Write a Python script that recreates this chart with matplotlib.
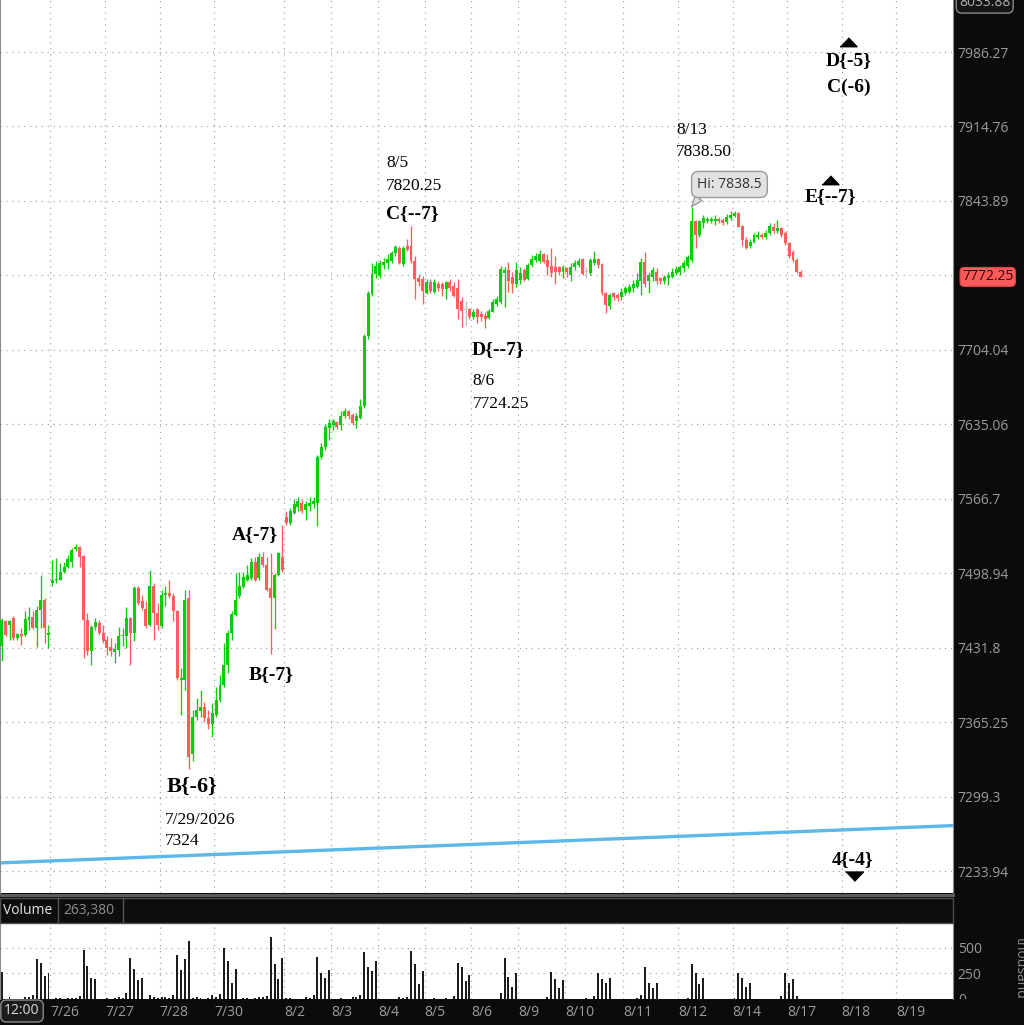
import matplotlib
matplotlib.use("Agg")
import matplotlib.pyplot as plt
import numpy as np
from matplotlib.patches import Rectangle
from matplotlib.lines import Line2D
from matplotlib.ticker import FixedLocator, NullLocator
from matplotlib.transforms import blended_transform_factory

# intraday bars (bar index = position on the time axis)
opens = [7433.0, 7455.5, 7452.5, 7458.5, 7440.5, 7444.5, 7443.5, 7457.0, 7459.5, 7449.5,
         7466.0, 7475.0, 7443.5, 7490.5, 7492.5, 7493.0, 7500.5, 7504.5, 7509.5, 7520.5,
         7522.5, 7514.5, 7457.0, 7428.5, 7450.5, 7454.0, 7445.0, 7439.0, 7432.5, 7427.5,
         7430.0, 7442.0, 7442.0, 7458.5, 7445.0, 7485.5, 7473.5, 7466.5, 7452.5, 7487.0,
         7463.0, 7451.0, 7479.5, 7481.5, 7478.5, 7464.5, 7403.0, 7403.0, 7476.5, 7337.0,
         7370.0, 7375.5, 7378.5, 7368.5, 7364.0, 7371.5, 7385.0, 7398.5, 7416.5, 7445.0,
         7461.5, 7478.0, 7486.5, 7493.0, 7494.5, 7509.5, 7494.5, 7514.0, 7506.5, 7485.5,
         7476.5, 7497.5, 7514.0, 7550.5, 7544.5, 7554.0, 7559.0, 7563.0, 7556.0, 7560.0,
         7561.5, 7563.0, 7605.0, 7614.5, 7631.5, 7634.5, 7637.0, 7634.5, 7642.5, 7647.0,
         7644.0, 7638.0, 7641.0, 7652.0, 7717.0, 7756.0, 7774.5, 7773.0, 7783.0, 7785.5,
         7787.0, 7794.5, 7799.5, 7784.0, 7801.0, 7801.0, 7787.0, 7771.5, 7770.0, 7757.5,
         7767.0, 7758.0, 7765.5, 7765.5, 7760.5, 7767.5, 7764.0, 7762.0, 7750.0, 7741.0,
         7742.0, 7735.0, 7742.0, 7737.5, 7736.0, 7733.5, 7739.5, 7746.5, 7748.5, 7775.5,
         7779.0, 7772.5, 7766.0, 7769.5, 7779.0, 7770.0, 7783.5, 7788.0, 7787.5, 7794.0,
         7788.0, 7782.5, 7782.0, 7781.5, 7777.0, 7780.5, 7774.0, 7781.5, 7783.5, 7789.0,
         7777.0, 7775.5, 7785.5, 7789.0, 7784.5, 7757.0, 7745.0, 7757.0, 7755.0, 7753.0,
         7757.5, 7758.5, 7761.5, 7763.0, 7768.0, 7786.5, 7768.0, 7772.5, 7777.0, 7771.0,
         7768.5, 7771.0, 7772.5, 7775.5, 7777.0, 7780.5, 7782.5, 7788.0, 7824.5, 7812.0,
         7823.0, 7824.5, 7824.5, 7824.5, 7826.5, 7826.0, 7823.5, 7827.5, 7829.5, 7832.5,
         7820.5, 7807.0, 7801.5, 7805.5, 7809.5, 7812.0, 7809.5, 7814.0, 7819.5, 7815.0,
         7818.0, 7813.5, 7804.0, 7796.0, 7788.0, 7777.0]
highs = [7458.5, 7457.0, 7457.0, 7460.0, 7445.0, 7449.5, 7464.5, 7468.5, 7464.5, 7469.0,
         7497.5, 7476.5, 7452.5, 7510.5, 7512.5, 7508.0, 7509.5, 7515.5, 7521.5, 7525.5,
         7523.5, 7515.5, 7463.0, 7452.5, 7458.5, 7456.5, 7452.5, 7442.5, 7440.5, 7436.0,
         7450.5, 7449.5, 7468.5, 7459.5, 7487.0, 7487.0, 7479.5, 7473.5, 7502.0, 7490.0,
         7472.0, 7484.0, 7487.0, 7493.0, 7481.0, 7466.0, 7413.5, 7484.0, 7483.5, 7376.0,
         7386.5, 7394.0, 7383.5, 7376.0, 7382.0, 7397.0, 7407.5, 7436.0, 7448.0, 7464.5,
         7499.5, 7500.5, 7500.5, 7506.5, 7512.5, 7514.0, 7517.0, 7518.5, 7514.0, 7517.0,
         7499.0, 7518.5, 7543.0, 7555.5, 7558.5, 7566.5, 7568.0, 7565.5, 7565.0, 7568.0,
         7568.5, 7607.0, 7617.5, 7635.5, 7639.5, 7639.5, 7638.0, 7647.0, 7650.5, 7648.5,
         7645.5, 7645.5, 7658.0, 7718.5, 7759.0, 7785.5, 7787.0, 7788.5, 7790.0, 7793.5,
         7796.5, 7802.5, 7801.0, 7801.0, 7807.5, 7820.25, 7792.0, 7774.5, 7773.0, 7770.0,
         7770.0, 7770.0, 7768.5, 7767.5, 7768.5, 7770.0, 7767.0, 7770.0, 7753.0, 7750.0,
         7743.5, 7742.0, 7743.5, 7740.5, 7739.0, 7742.0, 7751.5, 7754.5, 7782.5, 7781.5,
         7786.5, 7777.0, 7786.5, 7781.5, 7780.5, 7785.0, 7793.0, 7795.0, 7797.5, 7795.0,
         7794.0, 7799.0, 7791.5, 7782.5, 7783.5, 7782.0, 7785.0, 7788.0, 7790.0, 7790.0,
         7781.5, 7790.0, 7797.0, 7790.0, 7785.0, 7758.5, 7757.0, 7758.5, 7757.0, 7761.5,
         7763.5, 7765.5, 7769.5, 7775.5, 7790.0, 7796.0, 7777.0, 7782.0, 7780.5, 7772.5,
         7774.0, 7777.0, 7780.5, 7782.5, 7783.5, 7788.0, 7793.0, 7838.5, 7826.0, 7826.0,
         7830.5, 7829.0, 7828.5, 7830.5, 7828.5, 7827.5, 7831.5, 7834.0, 7834.0, 7833.0,
         7821.5, 7810.0, 7807.5, 7814.0, 7815.0, 7814.0, 7816.5, 7823.0, 7823.0, 7826.0,
         7819.5, 7815.0, 7805.5, 7797.5, 7790.0, 7779.0]
lows = [7419.5, 7442.0, 7439.0, 7439.0, 7439.0, 7434.5, 7442.0, 7448.0, 7448.5, 7432.5,
        7449.5, 7436.0, 7431.5, 7487.0, 7490.0, 7492.5, 7499.0, 7503.5, 7505.0, 7519.5,
        7505.0, 7422.5, 7425.5, 7416.5, 7448.0, 7443.5, 7436.0, 7425.5, 7424.0, 7418.5,
        7424.0, 7433.0, 7431.5, 7416.5, 7437.5, 7470.5, 7466.0, 7449.5, 7451.0, 7439.0,
        7448.0, 7449.5, 7469.0, 7476.5, 7455.5, 7403.0, 7371.5, 7394.0, 7324.0, 7331.0,
        7367.0, 7370.0, 7365.5, 7359.5, 7352.0, 7370.0, 7383.5, 7397.0, 7409.0, 7439.0,
        7460.0, 7476.5, 7485.5, 7491.5, 7493.0, 7491.5, 7493.0, 7505.0, 7482.5, 7426.5,
        7449.0, 7496.0, 7500.5, 7543.0, 7542.5, 7552.5, 7555.5, 7554.0, 7547.5, 7555.5,
        7558.5, 7541.5, 7603.5, 7611.5, 7620.5, 7630.0, 7630.5, 7630.0, 7641.0, 7639.5,
        7634.5, 7631.5, 7639.5, 7650.5, 7714.0, 7754.5, 7771.5, 7771.5, 7779.5, 7779.5,
        7785.5, 7792.0, 7784.0, 7782.5, 7796.5, 7785.5, 7751.5, 7764.0, 7746.5, 7756.0,
        7757.5, 7757.0, 7759.0, 7754.5, 7751.5, 7759.0, 7753.0, 7732.5, 7725.0, 7726.5,
        7732.5, 7732.5, 7729.5, 7731.0, 7724.25, 7732.5, 7739.0, 7745.0, 7746.5, 7744.0,
        7758.5, 7757.0, 7763.0, 7766.0, 7768.0, 7769.5, 7781.5, 7786.5, 7785.5, 7785.0,
        7774.0, 7772.5, 7766.0, 7774.0, 7771.0, 7772.5, 7768.0, 7779.0, 7781.5, 7774.0,
        7771.0, 7774.0, 7783.5, 7780.5, 7755.0, 7738.5, 7742.5, 7750.5, 7750.0, 7751.0,
        7755.0, 7757.0, 7758.5, 7761.5, 7755.0, 7763.0, 7757.0, 7768.0, 7766.0, 7766.0,
        7765.5, 7764.5, 7771.0, 7774.0, 7774.0, 7777.0, 7780.5, 7786.5, 7799.0, 7810.0,
        7818.0, 7823.0, 7823.0, 7821.5, 7823.0, 7821.5, 7822.0, 7826.0, 7828.5, 7819.0,
        7801.0, 7798.5, 7799.0, 7804.0, 7807.5, 7807.5, 7807.5, 7812.0, 7813.5, 7813.5,
        7810.0, 7802.5, 7790.0, 7786.5, 7775.5, 7772.25]
closes = [7457.0, 7443.5, 7455.5, 7440.5, 7444.5, 7442.0, 7457.5, 7459.5, 7449.5, 7466.0,
          7474.5, 7449.5, 7445.0, 7493.0, 7493.5, 7500.5, 7504.5, 7511.5, 7520.0, 7523.0,
          7514.0, 7456.5, 7428.5, 7450.5, 7454.5, 7445.0, 7437.5, 7431.5, 7428.5, 7430.5,
          7442.5, 7443.5, 7458.5, 7445.0, 7485.5, 7472.0, 7467.5, 7451.0, 7487.5, 7463.0,
          7452.5, 7479.5, 7481.5, 7478.0, 7464.5, 7404.5, 7404.5, 7475.0, 7334.0, 7370.0,
          7376.0, 7378.5, 7368.5, 7364.0, 7373.0, 7385.0, 7398.5, 7416.5, 7445.0, 7462.5,
          7475.0, 7487.0, 7495.5, 7497.5, 7509.5, 7493.0, 7514.0, 7506.5, 7484.0, 7476.5,
          7497.5, 7517.0, 7502.0, 7544.5, 7555.5, 7561.5, 7565.0, 7555.5, 7561.5, 7563.0,
          7565.0, 7605.0, 7614.5, 7633.0, 7636.5, 7638.0, 7632.5, 7642.5, 7647.0, 7642.5,
          7636.5, 7642.5, 7652.0, 7717.0, 7757.5, 7774.5, 7782.5, 7785.5, 7786.0, 7789.5,
          7795.0, 7800.5, 7785.5, 7799.5, 7797.5, 7787.0, 7770.0, 7767.0, 7759.0, 7767.0,
          7759.0, 7767.0, 7762.0, 7760.5, 7767.0, 7762.0, 7754.5, 7742.0, 7740.5, 7741.0,
          7734.5, 7739.0, 7734.5, 7734.5, 7732.5, 7740.5, 7748.5, 7751.5, 7779.5, 7779.0,
          7768.0, 7766.0, 7779.0, 7775.5, 7769.5, 7783.5, 7789.0, 7792.0, 7794.0, 7786.5,
          7782.0, 7775.5, 7777.0, 7777.0, 7781.5, 7777.0, 7782.0, 7785.5, 7787.5, 7775.0,
          7777.0, 7788.0, 7789.0, 7783.5, 7757.0, 7746.0, 7755.0, 7753.5, 7752.0, 7758.5,
          7761.5, 7763.0, 7766.0, 7769.5, 7786.5, 7766.0, 7774.0, 7779.0, 7768.0, 7768.0,
          7772.5, 7774.0, 7777.0, 7779.5, 7782.0, 7785.0, 7790.5, 7824.5, 7812.0, 7824.5,
          7827.5, 7826.5, 7826.5, 7826.5, 7824.5, 7823.0, 7829.0, 7830.5, 7832.5, 7819.5,
          7806.5, 7799.0, 7805.5, 7812.0, 7812.0, 7809.5, 7814.0, 7820.5, 7815.0, 7818.0,
          7812.0, 7804.0, 7791.5, 7788.0, 7777.0, 7772.25]
# volume in thousands
volumes = [267, 0, 17, 0, 0, 0, 17, 17, 40, 390,
           353, 223, 250, 0, 10, 10, 0, 13, 13, 13,
           27, 477, 327, 210, 197, 0, 0, 13, 0, 13,
           23, 13, 57, 400, 297, 183, 207, 0, 37, 20,
           13, 17, 20, 13, 37, 433, 287, 390, 570, 13,
           20, 10, 0, 13, 37, 23, 50, 500, 377, 160,
           293, 0, 13, 13, 0, 13, 23, 17, 30, 610,
           340, 193, 403, 13, 13, 0, 0, 0, 20, 10,
           37, 413, 250, 210, 280, 0, 0, 10, 0, 0,
           20, 20, 37, 457, 313, 273, 377, 0, 0, 0,
           0, 0, 23, 13, 23, 470, 340, 147, 277, 0,
           0, 10, 0, 0, 10, 0, 27, 350, 310, 173,
           237, 0, 0, 0, 0, 0, 0, 0, 63, 400,
           220, 117, 250, 0, 0, 0, 0, 0, 0, 0,
           23, 263, 197, 107, 187, 0, 0, 0, 0, 0,
           10, 0, 27, 250, 200, 160, 207, 0, 0, 0,
           0, 0, 0, 10, 37, 313, 160, 107, 160, 0,
           0, 0, 0, 0, 0, 0, 13, 340, 250, 150,
           207, 0, 0, 0, 0, 0, 0, 0, 13, 250,
           203, 117, 160, 0, 0, 0, 0, 0, 0, 0,
           27, 250, 160, 193, 27, 0]

price_ticks = [7233.94, 7299.3, 7365.25, 7431.8, 7498.94, 7566.7,
               7635.06, 7704.04, 7773.65, 7843.89, 7914.76, 7986.27]
price_tick_labels = ["7233.94", "7299.3", "7365.25", "7431.8", "7498.94", "7566.7",
                     "7635.06", "7704.04", "", "7843.89", "7914.76", "7986.27"]
session_starts = [13, 27, 41, 55, 73, 85, 97, 109, 121, 133, 145, 160, 174, 188, 202, 216, 230]
session_labels = ["7/26", "7/27", "7/28", "7/30", "8/2", "8/3", "8/4", "8/5", "8/6",
                  "8/9", "8/10", "8/11", "8/12", "8/14", "8/17", "8/18", "8/19"]
last_price = 7772.25
scale_top = 8033.88
session_high = 7838.5
session_high_bar = 177
trend_bars = [-1, 245]
trend_prices = [7241.0, 7273.9]

# wave labels: text, bar, price, size
wave_labels = [("D{-5}", 217.4, 7977.6, 14), ("C(-6)", 217.2, 7952.6, 14),
               ("E{--7}", 212.5, 7848.5, 14), ("C{--7}", 105.3, 7832.4, 14),
               ("D{--7}", 127.2, 7703.9, 14), ("A{-7}", 64.9, 7534.0, 14),
               ("B{-7}", 69.0, 7407.3, 14), ("B{-6}", 48.7, 7307.7, 16),
               ("4{-4}", 218.4, 7244.4, 14)]
note_labels = [("8/13", 173.0, 7911.4), ("7838.50", 173.0, 7890.4),
               ("8/5", 98.6, 7879.9), ("7820.25", 98.6, 7858.1),
               ("8/6", 120.8, 7675.1), ("7724.25", 120.8, 7653.8),
               ("7/29/2026", 41.9, 7278.7), ("7324", 41.9, 7260.3)]
arrows_up = [(217.2, 7996.4), (212.5, 7864.2)]
arrows_down = [(218.7, 7229.5)]

W, H = 1024, 1025
BG = "#0b0b0b"
GREEN = "#0ccc0c"
RED = "#ff5c5c"
GRID = "#a0a0a0"
AXTXT = "#9c9c9c"


def rect(x0, y0, x1, y1):
    return [x0 / W, 1 - y1 / H, (x1 - x0) / W, (y1 - y0) / H]


plt.rcParams["font.family"] = ["Open Sans", "DejaVu Sans"]
fig = plt.figure(figsize=(10.24, 10.25), dpi=100, facecolor=BG)
ax = fig.add_axes(rect(0, 0, 953, 893))
axv = fig.add_axes(rect(0, 923, 953, 999))

o = np.array(opens)
h = np.array(highs)
l = np.array(lows)
c = np.array(closes)
x = np.arange(len(c))
colors = np.where(c > o, GREEN, np.where(c < o, RED, "#c0c0c0"))

ax.set_yscale("log")
ax.set_xlim(-0.44, 244.05)
ax.set_ylim(7214.8, 8036.6)
ax.vlines(x, l, h, colors=colors, linewidth=0.95, zorder=3)
ax.bar(x, np.maximum(np.abs(c - o), 1.0), bottom=np.minimum(o, c), width=0.76,
       color=colors, linewidth=0, zorder=3)
ax.plot(trend_bars, trend_prices, color="#5bb8e8", linewidth=2.4, zorder=2,
        solid_capstyle="butt")

ax.yaxis.set_major_locator(FixedLocator(price_ticks))
ax.yaxis.set_minor_locator(NullLocator())
ax.set_yticklabels(price_tick_labels)
ax.yaxis.tick_right()
ax.tick_params(axis="y", length=0, pad=3.5, labelsize=10, labelcolor=AXTXT)
ax.set_xticks([s - 0.5 for s in session_starts])
ax.tick_params(axis="x", length=0, labelbottom=False)
ax.grid(True, color=GRID, linestyle=(0, (1, 4)), linewidth=0.85, zorder=0)
ax.set_axisbelow(True)

# volume pane
axv.bar(x, volumes, width=0.5, color="#1c1c1c", linewidth=0)
axv.set_xlim(-0.44, 244.05)
axv.set_ylim(0, 745)
axv.set_yticks([0, 250, 500])
axv.set_yticklabels(["0", "250", "500"])
axv.yaxis.tick_right()
axv.tick_params(axis="y", length=0, pad=3.5, labelsize=10, labelcolor=AXTXT)
axv.set_xticks([s - 0.5 for s in session_starts])
axv.set_xticklabels(session_labels, ha="left")
axv.tick_params(axis="x", length=0, pad=4, labelsize=10, labelcolor=AXTXT)
axv.grid(True, color=GRID, linestyle=(0, (1, 4)), linewidth=0.85)
axv.set_axisbelow(True)

for a in (ax, axv):
    for side in ("top", "bottom"):
        a.spines[side].set_visible(False)
    a.spines["right"].set_color("#8c8c8c")
    a.spines["left"].set_color("#8c8c8c")

# axis-side price labels
yside = blended_transform_factory(ax.transAxes, ax.transData)
ax.text(1 + 6 / 953, scale_top, "8033.88", transform=yside, ha="left", va="center",
        fontsize=10, color="#b0b0b0", clip_on=False,
        bbox=dict(boxstyle="round,pad=0.2,rounding_size=0.4", fc="#141414", ec="#8a8a8a", lw=1))
ax.text(1 + 9 / 953, last_price, f"{last_price:.2f}", transform=yside, ha="left",
        va="center", fontsize=10, color="#2a0505", clip_on=False,
        bbox=dict(boxstyle="round,pad=0.14,rounding_size=0.3", fc="#ff5a5a", ec="#e04848", lw=0.8))

# annotations
for text, bx, py, size in wave_labels:
    ax.text(bx, py, text, ha="center", va="center", fontsize=size, fontweight="bold",
            family="Liberation Serif", color="black", zorder=5)
for text, bx, py in note_labels:
    ax.text(bx, py, text, ha="left", va="center", fontsize=12.5,
            family="Liberation Serif", color="black", zorder=5)
up_marker = [(-1, -0.5), (1, -0.5), (0, 0.55)]
down_marker = [(-1, 0.5), (1, 0.5), (0, -0.55)]
for bx, py in arrows_up:
    ax.plot(bx, py, marker=up_marker, markersize=12.2, color="black", linestyle="none")
for bx, py in arrows_down:
    ax.plot(bx, py, marker=down_marker, markersize=12.8, color="black", linestyle="none")

ax.annotate(f"Hi: {session_high}", xy=(session_high_bar, session_high), xytext=(186.7, 7859.5),
            ha="center", va="center", fontsize=10, color="#333333", zorder=6,
            bbox=dict(boxstyle="round,pad=0.4,rounding_size=0.5", fc="#e2e2e2", ec="#9b9b9b", lw=1),
            arrowprops=dict(arrowstyle="wedge,tail_width=0.6,shrink_factor=0.5", fc="#e2e2e2",
                            ec="#9b9b9b", lw=1, relpos=(0.1, 0.0), shrinkA=0, shrinkB=0))

# separator and volume header
fig.add_artist(Line2D([0, 953 / W], [1 - 894.5 / H] * 2, color="#5c5c5c", linewidth=2.2))
fig.add_artist(Rectangle((0, 1 - 923 / H), 953 / W, 25 / H, transform=fig.transFigure,
                         fc="#0d0d0d", ec="#4f4f4f", lw=1))
for xd in (58, 123):
    fig.add_artist(Line2D([xd / W] * 2, [1 - 898 / H, 1 - 923 / H], color="#555555", linewidth=1))
fig.text(3 / W, 1 - 911 / H, "Volume", ha="left", va="center", fontsize=10, color="#e6e6e6")
fig.text(63 / W, 1 - 911 / H, "263,380", ha="left", va="center", fontsize=10, color="#8e8e8e")
fig.text(1013 / W, 1 - 937 / H, "thousands", rotation=270, ha="left", va="top",
         fontsize=10, color="#8c8c8c")
fig.add_artist(Rectangle((953.5 / W, 0), (W - 953.5) / W, 26 / H, transform=fig.transFigure,
                         fc=BG, ec="none", zorder=5))
fig.text(22 / W, 1 - 1011 / H, "12:00", ha="center", va="center", fontsize=10, color="#dcdcdc",
         bbox=dict(boxstyle="round,pad=0.25,rounding_size=0.4", fc="#1c1c1c", ec="#8a8a8a", lw=1))

fig.savefig("out.png", dpi=100, facecolor=BG)
plt.close(fig)
